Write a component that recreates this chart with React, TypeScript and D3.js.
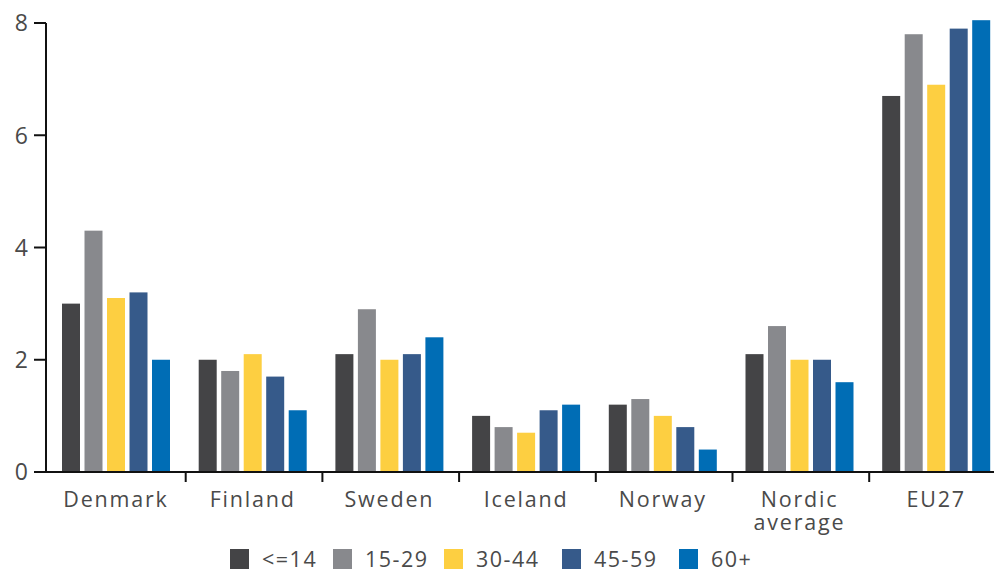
import React from "react";
import * as d3 from "d3";

const categories = ["Denmark", "Finland", "Sweden", "Iceland", "Norway", "Nordic average", "EU27"];
const seriesNames = ["<=14", "15-29", "30-44", "45-59", "60+"];
const colors = ["#444446", "#88898d", "#fdcf41", "#365a8a", "#006db5"];
const values: number[][] = [
  [3.0, 4.3, 3.1, 3.2, 2.0],
  [2.0, 1.8, 2.1, 1.7, 1.1],
  [2.1, 2.9, 2.0, 2.1, 2.4],
  [1.0, 0.8, 0.7, 1.1, 1.2],
  [1.2, 1.3, 1.0, 0.8, 0.4],
  [2.1, 2.6, 2.0, 2.0, 1.6],
  [6.7, 7.8, 6.9, 7.9, 8.05],
];
const yTicks = [0, 2, 4, 6, 8];

export default function App() {
  const W = 994, H = 573;
  const axisX = 46, y0px = 472, y8px = 23;
  const step = 136.7;
  const x0 = d3.scaleBand<string>().domain(categories).range([49, 49 + 7 * step]).padding(0);
  const x1 = d3.scaleBand<string>().domain(seriesNames).range([13, 121]).paddingInner(0.2).paddingOuter(0);
  const y = d3.scaleLinear().domain([0, 8]).range([y0px, y8px]);
  const font = "'Open Sans', sans-serif";
  const textColor = "#4a4a4a";
  const legendX = [230, 333, 444, 562, 679];
  return (
    <svg width={W} height={H} style={{ position: "absolute", left: 0, top: 0, background: "#fff" }}>
      {categories.map((c, i) =>
        seriesNames.map((s, j) => (
          <rect key={c + s} x={(x0(c) as number) + (x1(s) as number)} width={x1.bandwidth()}
            y={y(values[i][j])} height={y0px - y(values[i][j])} fill={colors[j]} />
        ))
      )}
      <line x1={axisX} x2={axisX} y1={y8px} y2={y0px + 1} stroke="#111" strokeWidth={2} />
      <line x1={axisX} x2={W} y1={y0px} y2={y0px} stroke="#111" strokeWidth={2} />
      {yTicks.map(t => (
        <g key={t}>
          <line x1={34} x2={axisX} y1={y(t)} y2={y(t)} stroke="#111" strokeWidth={2} />
          <text x={28} y={y(t)} dy="0.36em" textAnchor="end" fontFamily={font} fontSize={23} fill={textColor}>{t}</text>
        </g>
      ))}
      {categories.slice(1).map(c => (
        <line key={c} x1={x0(c)} x2={x0(c)} y1={y0px} y2={y0px + 10} stroke="#111" strokeWidth={2} />
      ))}
      {categories.map(c => {
        const cx = (x0(c) as number) + 67;
        const lines = c === "Nordic average" ? ["Nordic", "average"] : [c];
        return lines.map((l, k) => (
          <text key={c + k} x={cx} y={507 + k * 23} textAnchor="middle" fontFamily={font} fontSize={21.5} fill={textColor} letterSpacing={1.8}>{l}</text>
        ));
      })}
      {seriesNames.map((s, j) => (
        <g key={s}>
          <rect x={legendX[j]} y={549} width={19} height={20} fill={colors[j]} />
          <text x={legendX[j] + 32} y={559} dy="0.36em" fontFamily={font} fontSize={21.5} fill={textColor} letterSpacing={1.5}>{s}</text>
        </g>
      ))}
    </svg>
  );
}
